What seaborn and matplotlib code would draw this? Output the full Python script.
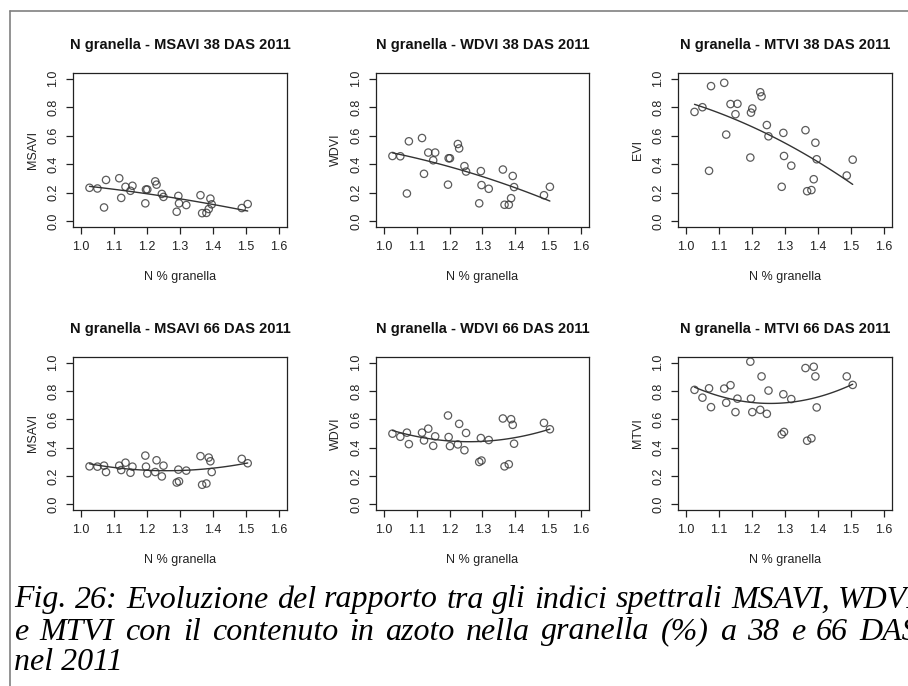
import numpy as np
import pandas as pd
import matplotlib
matplotlib.use("Agg")
import matplotlib.pyplot as plt
from matplotlib.lines import Line2D
import seaborn as sns

# ---- data ----
n_granella = [1.026, 1.050, 1.076, 1.070, 1.116, 1.135, 1.122, 1.156, 1.150, 1.197,
              1.201, 1.195, 1.225, 1.229, 1.245, 1.250, 1.295, 1.297, 1.290, 1.319,
              1.362, 1.367, 1.380, 1.392, 1.396, 1.387, 1.487, 1.505]

msavi_38 = [0.235, 0.230, 0.290, 0.097, 0.302, 0.242, 0.164, 0.249, 0.214, 0.223,
            0.223, 0.126, 0.280, 0.257, 0.192, 0.171, 0.178, 0.126, 0.067, 0.114,
            0.183, 0.057, 0.059, 0.159, 0.119, 0.086, 0.093, 0.121]
wdvi_38 = [0.458, 0.456, 0.561, 0.195, 0.584, 0.482, 0.333, 0.482, 0.428, 0.442,
           0.442, 0.257, 0.542, 0.511, 0.387, 0.349, 0.352, 0.254, 0.126, 0.228,
           0.363, 0.116, 0.116, 0.318, 0.240, 0.162, 0.183, 0.242]
mtvi_38 = [0.767, 0.800, 0.948, 0.354, 0.971, 0.822, 0.608, 0.824, 0.751, 0.762,
           0.791, 0.447, 0.905, 0.876, 0.675, 0.596, 0.620, 0.458, 0.242, 0.390,
           0.639, 0.211, 0.219, 0.551, 0.435, 0.295, 0.321, 0.432]
msavi_66 = [0.268, 0.266, 0.228, 0.273, 0.273, 0.294, 0.242, 0.266, 0.223, 0.266,
            0.218, 0.344, 0.228, 0.311, 0.197, 0.273, 0.245, 0.162, 0.154, 0.238,
            0.340, 0.138, 0.147, 0.304, 0.228, 0.330, 0.321, 0.290]
wdvi_66 = [0.499, 0.477, 0.425, 0.506, 0.506, 0.534, 0.451, 0.480, 0.413, 0.475,
           0.411, 0.627, 0.423, 0.568, 0.382, 0.504, 0.468, 0.309, 0.299, 0.454,
           0.606, 0.268, 0.283, 0.561, 0.428, 0.601, 0.575, 0.530]
mtvi_66 = [0.808, 0.753, 0.686, 0.819, 0.817, 0.841, 0.717, 0.746, 0.651, 0.746,
           0.651, 1.007, 0.667, 0.903, 0.639, 0.803, 0.777, 0.511, 0.494, 0.743,
           0.962, 0.449, 0.466, 0.903, 0.684, 0.971, 0.903, 0.843]

titles = ["N granella - MSAVI 38 DAS 2011", "N granella - WDVI 38 DAS 2011",
          "N granella - MTVI 38 DAS 2011", "N granella - MSAVI 66 DAS 2011",
          "N granella - WDVI 66 DAS 2011", "N granella - MTVI 66 DAS 2011"]
ylabels = ["MSAVI", "WDVI", "EVI", "MSAVI", "WDVI", "MTVI"]
series = [msavi_38, wdvi_38, mtvi_38, msavi_66, wdvi_66, mtvi_66]
xlabel = "N % granella"
x_ticks = [1.0, 1.1, 1.2, 1.3, 1.4, 1.5, 1.6]
y_ticks = [0.0, 0.2, 0.4, 0.6, 0.8, 1.0]
caption = ["Fig. 26: Evoluzione del rapporto tra gli indici spettrali MSAVI, WDVI",
           "e MTVI con il contenuto in azoto nella granella (%) a 38 e 66 DAS",
           "nel 2011"]

# ---- figure ----
sns.set_theme(style="white")
plt.rcParams['font.family'] = ['Liberation Sans', 'DejaVu Sans']

W, H = 908, 686
fig = plt.figure(figsize=(W / 100, H / 100), dpi=100)
fig.patch.set_facecolor("white")


def pos(l, t, r, b):
    return [l / W, 1 - b / H, (r - l) / W, (b - t) / H]


col_lr = [(73, 287), (376, 589), (678, 892)]
row_tb = [(73, 227), (357, 510)]

ink = "#222222"
for i, (yv, title, yl) in enumerate(zip(series, titles, ylabels)):
    r, c = divmod(i, 3)
    l, rr = col_lr[c]
    t, b = row_tb[r]
    ax = fig.add_axes(pos(l, t, rr, b))
    df = pd.DataFrame({"x": n_granella, "y": yv})
    sns.regplot(data=df, x="x", y="y", ax=ax, order=2, ci=None,
                scatter_kws=dict(s=28, facecolors="none", edgecolors="#333333",
                                 linewidths=0.9),
                line_kws=dict(color="#333333", lw=1.0))
    ax.set_xlim(0.976, 1.624)
    ax.set_ylim(-0.04, 1.04)
    ax.set_xticks(x_ticks)
    ax.set_yticks(y_ticks)
    ax.set_xticklabels([f"{v:.1f}" for v in x_ticks])
    ax.set_yticklabels([f"{v:.1f}" for v in y_ticks], rotation=90, va="center")
    ax.tick_params(axis="both", direction="out", length=5, width=0.9,
                   color=ink, labelsize=9, labelcolor=ink, pad=5,
                   left=True, bottom=True)
    for sp in ax.spines.values():
        sp.set_visible(True)
        sp.set_color(ink)
        sp.set_linewidth(0.9)
    ax.set_facecolor("white")
    ax.grid(False)
    h = b - t
    wdt = rr - l
    ax.set_xlabel(xlabel, fontsize=9, color=ink)
    ax.xaxis.set_label_coords(0.5, -(50 / h))
    ax.xaxis.label.set_va("center")
    ax.set_ylabel(yl, fontsize=9, color=ink)
    ax.yaxis.set_label_coords(-(40 / wdt), 0.5)
    ax.yaxis.label.set_va("center")
    ax.set_title(title, fontsize=10.5, fontweight="bold", color="#111111",
                 y=1 + 28 / h, va="center", pad=0)

# caption: justified lines (the page text runs past the right edge)
cap_kw = dict(fontsize=23, style="italic", family=["Liberation Serif", "DejaVu Serif"],
              color="black", va="center", ha="left")
renderer = fig.canvas.get_renderer()
left_px, right_px = 14, 918
for k, (line, yy) in enumerate(zip(caption, [600, 632, 663])):
    yfig = 1 - yy / H
    if k == len(caption) - 1:
        fig.text(left_px / W, yfig, line, **cap_kw)
        continue
    words = line.split(" ")
    arts = [fig.text(0, yfig, wd, **cap_kw) for wd in words]
    widths = [a.get_window_extent(renderer).width for a in arts]
    gap = (right_px - left_px - sum(widths)) / (len(words) - 1)
    xcur = left_px
    for a, wpx in zip(arts, widths):
        a.set_x(xcur / W)
        xcur += wpx + gap

# page frame lines
fig.add_artist(Line2D([10 / W, 10 / W], [0, 1 - 11 / H], transform=fig.transFigure,
                      color="#808080", lw=1.2))
fig.add_artist(Line2D([10 / W, 1], [1 - 11 / H, 1 - 11 / H], transform=fig.transFigure,
                      color="#808080", lw=1.2))

fig.savefig("out.png", dpi=100, facecolor="white")
